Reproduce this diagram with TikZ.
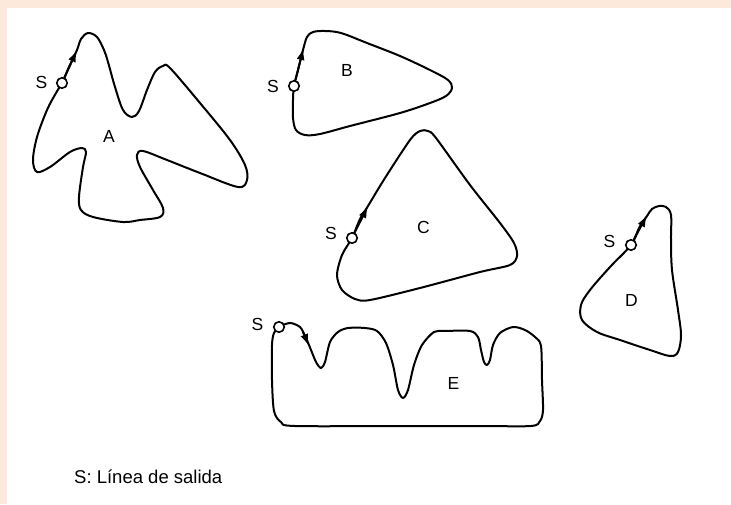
\documentclass[tikz,border=0pt]{standalone}
\usepackage{fontspec}
\setmainfont{Liberation Sans}
\usetikzlibrary{arrows.meta}
\definecolor{peach}{HTML}{FDE9DB}
\tikzset{
  outline/.style={line width=2pt, line join=round},
  startpt/.style={circle, draw, fill=white, line width=1.6pt, minimum size=10.5pt, inner sep=0pt},
  dirarrow/.style={line width=2pt, -{Latex[length=12pt,width=8pt]}},
  lbl/.style={font=\fontsize{17.5}{20}\selectfont, inner sep=0pt},
}
\begin{document}
\begin{tikzpicture}[x=1pt,y=-1pt]
\useasboundingbox (0,0) rectangle (731,504);
\fill[peach] (0,0) rectangle (731,504);
\fill[white] (7,8) rectangle (731,504);

% Shape A
\draw[outline] plot[smooth cycle, tension=0.55] coordinates {
 (62,83) (69,67) (77,50) (81,39) (88,33) (97,37) (104,50) (108,62)
 (115,87) (123,110) (132,117) (139,111) (147,90) (155,72) (163,66) (170,68)
 (200,103) (230,140) (245,165) (247,180) (238,187)
 (200,173) (167,160) (143,151) (137,155) (140,167) (153,190) (163,208) (160,217)
 (140,220) (123,222) (93,217) (81,210) (79,197) (83,167) (86,152) (82,148)
 (70,152) (50,167) (37,172) (33,160) (37,137) (47,110) (56,93)};
% Shape B
\draw[outline] plot[smooth cycle, tension=0.55] coordinates {
 (294,86) (298,70) (303,50) (307,37) (313,32) (325,31) (341,33) (367,43)
 (400,56) (430,70) (448,80) (452,88) (446,96) (430,103) (400,113) (350,126)
 (320,134) (305,135) (296,130) (293,118) (293,100)};
% Shape C
\draw[outline] plot[smooth cycle, tension=0.5] coordinates {
 (352,238) (360,219) (368,206) (385,178) (410,140) (420,131) (428,131) (436,138)
 (470,185) (500,223) (514,243) (517,256) (510,265) (480,272) (420,288)
 (370,300) (355,299) (342,290) (337,275) (342,255)};
% Shape D
\draw[outline] plot[smooth cycle, tension=0.55] coordinates {
 (631,245) (639,228) (647,216) (652,209) (659,206) (666,207) (671,215) (671,240)
 (672,270) (678,310) (681,335) (678,352) (670,356) (650,350) (620,340)
 (597,332) (582,320) (581,305) (590,290) (610,267)};
% Shape E
\draw[outline] plot[smooth cycle, tension=0.5] coordinates {
 (279,327) (290,323) (300,327) (305,336) (309,345) (316,362) (321,368) (325,362)
 (330,342) (338,332) (348,328) (365,328) (377,331) (386,343) (393,365)
 (398,390) (403,398) (408,390) (414,365) (422,345) (434,332) (445,331)
 (470,331) (478,337) (481,350) (484,362) (487,365) (490,360) (493,345)
 (500,333) (513,327) (525,330) (535,337) (541,346) (542,380) (543,410)
 (540,421) (531,426) (480,426) (400,426) (295,426) (281,422) (274,411) (272,380)
 (272,345) (274,333)};

% start points
\node[startpt] (sA) at (62,83) {};
\node[startpt] (sB) at (294,86) {};
\node[startpt] (sC) at (352,238) {};
\node[startpt] (sD) at (631,245) {};
\node[startpt] (sE) at (279,327) {};

% direction arrows
\coordinate (tA) at (77,50);
\coordinate (tB) at (303.5,48);
\coordinate (tC) at (368,206);
\coordinate (tD) at (647,215);
\coordinate (eA) at (303,332);
\coordinate (tE) at (309,346);
\draw[dirarrow] (sA) -- (tA);
\draw[dirarrow] (sB) -- (tB);
\draw[dirarrow] (sC) -- (tC);
\draw[dirarrow] (sD) -- (tD);
\draw[dirarrow] (eA) -- (tE);

% S labels
\node[lbl] (lA) at (41.5,82) {S};
\node[lbl] (lB) at (273,86.5) {S};
\node[lbl] (lC) at (331,233) {S};
\node[lbl] (lD) at (609.5,241.5) {S};
\node[lbl] (lE) at (257.5,324) {S};

% shape letters
\node[lbl] (nA) at (109,136) {A};
\node[lbl] (nB) at (347,70) {B};
\node[lbl] (nC) at (423.5,227) {C};
\node[lbl] (nD) at (631.5,300) {D};
\node[lbl] (nE) at (453.5,383.5) {E};

% caption
\node[anchor=base west, inner sep=0pt, font=\fontsize{18.5}{22}\selectfont] (cap) at (74,483) {S: Línea de salida};
\end{tikzpicture}
\end{document}
